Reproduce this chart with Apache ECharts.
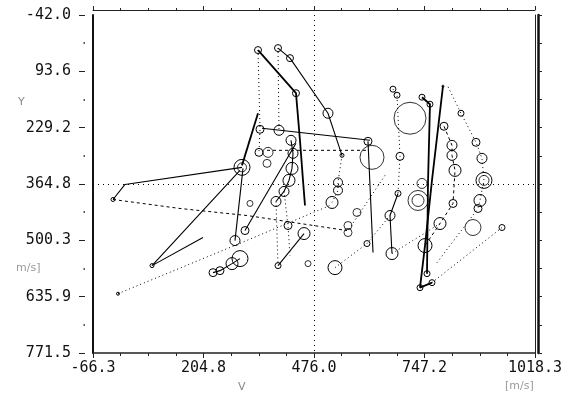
<!DOCTYPE html>
<html>
<head>
<meta charset="utf-8">
<script src="https://cdn.jsdelivr.net/npm/echarts@6/dist/echarts.min.js"></script>
<style>
  html, body { margin: 0; padding: 0; background: #fff; }
  #chart { width: 573px; height: 396px; }
</style>
</head>
<body>
<div id="chart"></div>
<script>
// tick labels
const xTicks = [-66.3, 204.8, 476.0, 747.2, 1018.3];
const yTicks = [-42.0, 93.6, 229.2, 364.8, 500.3, 635.9, 771.5];
const crossX = 476.0;
const crossY = 364.8;

// trajectories: [x, y, circle size]  (size 0 = no circle)
const trackA = [[299.3, 324.7, 8], [12.2, 365.8, 0], [-17.2, 402.0, 2]];
const trackB = [[-17.2, 402.0, 0], [147.2, 423.7, 0], [311.6, 440.6, 0], [557.0, 476.8, 0]];
const trackC = [[203.6, 493.6, 0], [78.5, 561.2, 2], [294.4, 332.0, 0]];
const trackD = [[-4.9, 628.8, 1.5], [287.0, 510.5, 0], [515.3, 416.4, 0]];
const trackE = [[338.6, 42.4, 3.5], [431.8, 146.2, 3.5], [441.6, 259.6, 0], [449.0, 356.1, 0], [453.9, 416.4, 0]];
const trackF = [[338.6, 42.4, 0], [343.5, 233.1, 4], [341.0, 288.6, 4]];
const trackH = [[387.7, 37.6, 3.5], [390.1, 235.5, 5]];
const trackI = [[387.7, 37.6, 0], [417.1, 61.8, 3.5], [510.3, 194.5, 5], [532.4, 259.6, 0], [544.7, 295.8, 2]];
const trackJ = [[544.7, 295.8, 0], [534.9, 360.9, 4.5], [534.9, 380.2, 4.5], [520.2, 409.2, 6]];
const trackK = [[348.4, 230.6, 0], [613.4, 259.6, 0]];
const trackL = [[360.7, 283.7, 0], [608.5, 283.7, 0]];
const trackM = [[419.6, 259.6, 5], [424.5, 291.0, 5], [422.0, 327.2, 6], [414.6, 356.1, 6], [402.4, 382.7, 5], [382.7, 406.8, 5]];
const trackN = [[382.7, 406.8, 0], [387.7, 561.2, 3]];
const trackN2 = [[402.4, 382.7, 0], [412.2, 464.7, 4], [417.1, 537.1, 0]];
const trackO = [[387.7, 561.2, 0], [451.5, 484.0, 6]];
const trackR = [[669.8, 136.5, 3], [679.7, 151.0, 3], [687.0, 298.2, 4], [682.1, 387.5, 3]];
const trackS = [[682.1, 387.5, 0], [662.5, 440.6, 5], [667.4, 532.2, 6]];
const trackT = [[741.0, 155.9, 3], [760.6, 172.7, 3], [755.7, 363.4, 0], [753.3, 580.5, 3]];
const trackU = [[792.5, 129.3, 1], [765.5, 356.1, 0], [748.4, 512.9, 7], [736.1, 614.3, 3], [765.5, 602.2, 3]];
const trackV = [[795.0, 225.8, 4], [814.6, 271.7, 5], [814.6, 295.8, 5], [822.0, 332.0, 6], [817.1, 411.6, 4], [785.2, 459.9, 6], [748.4, 512.9, 0]];
const trackW = [[805.0, 131.0, 0], [836.7, 194.5, 3], [873.5, 264.4, 4], [888.2, 303.0, 5], [893.1, 356.1, 8], [883.3, 404.4, 6], [878.4, 423.7, 4]];
const trackX = [[765.5, 602.2, 0], [937.3, 469.5, 3]];
const trackY = [[777.8, 554.0, 0], [878.4, 423.7, 0]];
const trackZ = [[608.5, 262.0, 4], [620.8, 529.8, 0]];
const trackP = [[667.4, 532.2, 0], [785.2, 459.9, 0]];
const trackQ = [[527.5, 566.0, 7], [606.0, 508.1, 3], [662.5, 440.6, 0]];
const trackG = [[650.2, 344.0, 0], [559.4, 476.8, 0]];
const trackLow = [[228.2, 578.1, 4], [245.3, 573.3, 4], [274.8, 556.4, 6], [294.4, 544.3, 8]];
const trackDD = [[282.1, 500.9, 5], [301.8, 327.2, 0]];
const trackEE = [[306.7, 476.8, 4], [431.8, 266.8, 0]];
const trackFF = [[338.6, 194.5, 0], [299.3, 319.9, 0]];
const looseCircles = [[711.6, 206.5, 16], [618.3, 300.6, 12], [731.2, 404.4, 10], [741.0, 363.4, 5],
  [581.5, 433.3, 4], [559.4, 464.7, 4], [559.4, 481.6, 4], [461.3, 556.4, 3], [866.1, 469.5, 8],
  [318.9, 411.6, 3], [363.1, 288.6, 5], [360.7, 315.1, 4]];
const innerRings = [[299.3, 324.7, 4.5], [893.1, 356.1, 5], [731.2, 404.4, 6]];

const xStep = (xTicks[xTicks.length - 1] - xTicks[0]) / (xTicks.length - 1);
const yStep = (yTicks[yTicks.length - 1] - yTicks[0]) / (yTicks.length - 1);

function xLabel(v) {
  const i = Math.round((v - xTicks[0]) / xStep);
  return xTicks[i] !== undefined ? xTicks[i].toFixed(1) : '';
}
function yLabel(v) {
  const i = Math.round((v - yTicks[0]) / yStep);
  return yTicks[i] !== undefined ? yTicks[i].toFixed(1) : '';
}

const solidThick = { color: '#000', width: 1.8, type: 'solid' };
const solid = { color: '#000', width: 1.1, type: 'solid' };
const dotted = { color: '#000', width: 1, type: [1, 3] };
const dashed = { color: '#000', width: 1, type: [3, 3] };

const font = 'DejaVu Sans Mono';

function track(data, style) {
  return {
    type: 'line',
    data: data,
    symbol: 'circle',
    symbolSize: function (d) { return d[2] * 2; },
    showAllSymbol: true,
    lineStyle: style,
    itemStyle: { color: 'rgba(0,0,0,0)', borderColor: '#000', borderWidth: 1 },
    silent: true,
    z: 3
  };
}
function rings(data) {
  return {
    type: 'scatter',
    data: data,
    symbol: 'circle',
    symbolSize: function (d) { return d[2] * 2; },
    itemStyle: { color: 'rgba(0,0,0,0)', borderColor: '#000', borderWidth: 1 },
    silent: true,
    z: 3
  };
}

const yBase = {
  type: 'value',
  inverse: true,
  min: yTicks[0],
  max: yTicks[yTicks.length - 1],
  interval: yStep,
  splitLine: { show: false }
};
const xBase = {
  type: 'value',
  min: xTicks[0],
  max: xTicks[xTicks.length - 1],
  interval: xStep,
  splitLine: { show: false }
};

let myChart = echarts.init(document.getElementById('chart'));
myChart.setOption({
  animation: false,
  backgroundColor: '#fff',
  grid: { left: 93, right: 38, top: 15, bottom: 43 },
  xAxis: [
    Object.assign({}, xBase, {
      position: 'bottom',
      axisLine: { onZero: false, lineStyle: { color: '#222', width: 1.5 } },
      axisTick: { length: 5, lineStyle: { color: '#222' } },
      minorTick: { show: true, splitNumber: 4, length: 3, lineStyle: { color: '#222' } },
      axisLabel: { formatter: xLabel, fontFamily: font, fontSize: 15, color: '#111', margin: 8 }
    }),
    Object.assign({}, xBase, {
      position: 'top',
      offset: 5,
      axisLine: { onZero: false, lineStyle: { color: '#222', width: 1 } },
      axisTick: { length: 4, lineStyle: { color: '#222' } },
      minorTick: { show: true, splitNumber: 4, length: 2, lineStyle: { color: '#222' } },
      axisLabel: { show: false }
    })
  ],
  yAxis: [
    Object.assign({}, yBase, {
      position: 'left',
      axisLine: { onZero: false, lineStyle: { color: '#111', width: 2 } },
      axisTick: { show: false },
      axisLabel: { formatter: yLabel, fontFamily: font, fontSize: 15, color: '#111', margin: 22 }
    }),
    Object.assign({}, yBase, {
      position: 'left',
      offset: 8,
      axisLine: { show: false, onZero: false },
      axisTick: { length: 6, lineStyle: { color: '#222' } },
      minorTick: { show: true, splitNumber: 2, length: 1.5, lineStyle: { color: '#222', width: 1.5 } },
      axisLabel: { show: false }
    }),
    Object.assign({}, yBase, {
      position: 'right',
      axisLine: { onZero: false, lineStyle: { color: '#222', width: 1 } },
      axisTick: { show: false },
      axisLabel: { show: false }
    }),
    Object.assign({}, yBase, {
      position: 'right',
      offset: 3,
      axisLine: { onZero: false, lineStyle: { color: '#111', width: 2.5 } },
      axisTick: { length: 4, lineStyle: { color: '#222' } },
      minorTick: { show: true, splitNumber: 2, length: 4, lineStyle: { color: '#222' } },
      axisLabel: { show: false }
    })
  ],
  graphic: [
    { type: 'text', left: 18, top: 97, style: { text: 'Y', font: '11px "DejaVu Sans"', fill: '#888' } },
    { type: 'text', left: 16, top: 263, style: { text: 'm/s]', font: '11px "DejaVu Sans"', fill: '#999' } },
    { type: 'text', left: 238, top: 382, style: { text: 'V', font: '11px "DejaVu Sans"', fill: '#888' } },
    { type: 'text', left: 505, top: 381, style: { text: '[m/s]', font: '11px "DejaVu Sans"', fill: '#999' } }
  ],
  series: [
    {
      type: 'line',
      data: [],
      markLine: {
        silent: true,
        symbol: 'none',
        label: { show: false },
        lineStyle: { color: '#000', width: 1, type: [1, 4] },
        data: [{ xAxis: crossX }, { yAxis: crossY }]
      }
    },
    track(trackA, solid),
    track(trackB, dashed),
    track(trackC, solid),
    track(trackD, dotted),
    track(trackE, solidThick),
    track(trackF, dotted),
    track(trackH, dotted),
    track(trackI, solid),
    track(trackJ, dotted),
    track(trackK, solid),
    track(trackL, dashed),
    track(trackM, solid),
    track(trackN, dotted),
    track(trackN2, dotted),
    track(trackO, solid),
    track(trackR, dotted),
    track(trackS, solid),
    track(trackT, solidThick),
    track(trackU, solidThick),
    track(trackV, dashed),
    track(trackW, dotted),
    track(trackX, dotted),
    track(trackY, dotted),
    track(trackZ, solid),
    track(trackP, dotted),
    track(trackQ, dotted),
    track(trackG, dotted),
    track(trackLow, solid),
    track(trackDD, solid),
    track(trackEE, solid),
    track(trackFF, solidThick),
    rings(looseCircles),
    rings(innerRings)
  ]
});
</script>
</body>
</html>
